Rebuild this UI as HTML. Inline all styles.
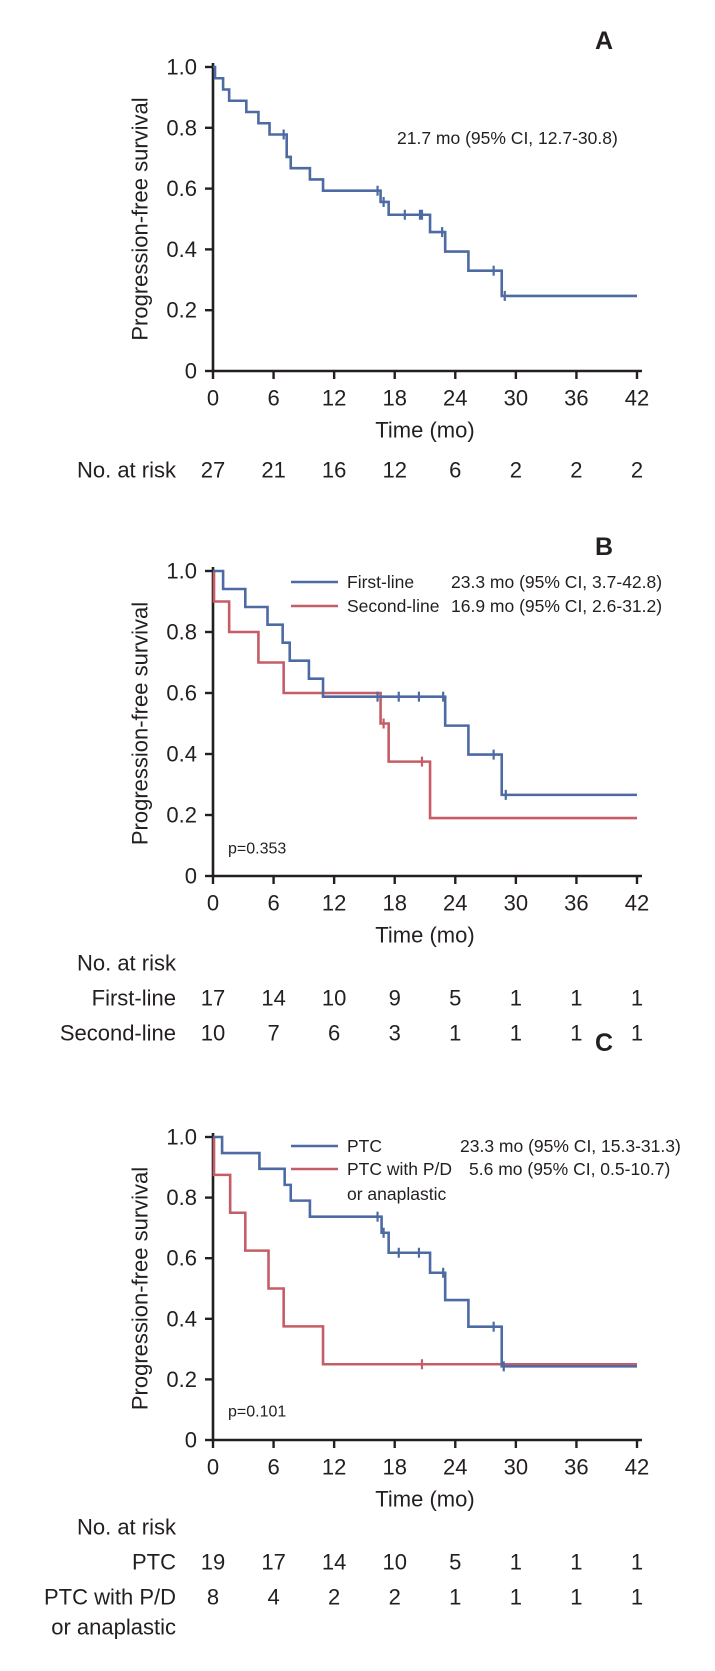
<!DOCTYPE html>
<html><head><meta charset="utf-8">
<style>
html,body{margin:0;padding:0;background:#fff;}
svg{display:block;font-family:"Liberation Sans Narrow","Liberation Sans",sans-serif;}
</style></head>
<body>
<svg id="chart" width="715" height="1671" viewBox="0 0 715 1671" xmlns="http://www.w3.org/2000/svg"></svg>
<script>
// ---- data ----
const xTicks = [0,6,12,18,24,30,36,42];
const yTicks = [0,0.2,0.4,0.6,0.8,1.0];
const yTickLabels = ["0","0.2","0.4","0.6","0.8","1.0"];

// Panel A
const aTimes = [0,0.2,1.0,1.6,3.3,4.5,5.6,7.3,7.7,9.6,10.9,16.6,17.4,21.5,23.0,25.3,28.6];
const aSurv  = [1,0.963,0.926,0.889,0.852,0.815,0.778,0.704,0.667,0.63,0.593,0.556,0.514,0.457,0.393,0.33,0.247];
const aCens  = [7.0,16.3,16.9,19.0,20.5,20.7,22.7,27.8,28.9];
const aRisk  = [27,21,16,12,6,2,2,2];

// Panel B
const bFirstTimes = [0,1.0,3.2,5.4,6.9,7.6,9.5,10.9,23.0,25.3,28.6];
const bFirstSurv  = [1,0.941,0.882,0.824,0.765,0.706,0.647,0.588,0.493,0.398,0.266];
const bFirstCens  = [16.3,18.4,20.4,22.8,27.8,29.0];
const bSecondTimes = [0,0.1,1.6,4.5,7.0,16.6,17.4,21.5];
const bSecondSurv  = [1,0.9,0.8,0.7,0.6,0.5,0.375,0.19];
const bSecondCens  = [16.9,20.7];
const bFirstRisk  = [17,14,10,9,5,1,1,1];
const bSecondRisk = [10,7,6,3,1,1,1,1];

// Panel C
const cPtcTimes = [0,0.9,4.6,7.1,7.7,9.6,16.7,17.4,21.5,23.0,25.3,28.6];
const cPtcSurv  = [1,0.947,0.895,0.842,0.79,0.737,0.684,0.618,0.552,0.462,0.374,0.243];
const cPtcCens  = [16.3,16.9,18.4,20.4,22.8,27.8,28.8];
const cPdTimes = [0,0.1,1.7,3.2,5.5,7.0,10.9];
const cPdSurv  = [1,0.875,0.75,0.625,0.5,0.375,0.25];
const cPdCens  = [20.7];
const cPtcRisk = [19,17,14,10,5,1,1,1];
const cPdRisk  = [8,4,2,2,1,1,1,1];

const BLUE="#4d6aa3", RED="#c55d66", INK="#231f20";
const svg=document.getElementById('chart');
const NS="http://www.w3.org/2000/svg";
function mk(tag,attrs,parent){const e=document.createElementNS(NS,tag);for(const k in attrs)e.setAttribute(k,attrs[k]);(parent||svg).appendChild(e);return e;}
function txt(s,x,y,size,anchor,parent,weight){const t=mk('text',{x:x,y:y,'font-size':size,'text-anchor':anchor||'start','dominant-baseline':'central',fill:INK},parent);if(weight)t.setAttribute('font-weight',weight);t.textContent=s;return t;}

const X0=213,X42=637;
function xs(m){return X0+(X42-X0)*m/42;}

function panel(letter,letterY,yTop,yBot,tickOff,titleOff,g){
  const ys=v=>yBot-(yBot-yTop)*v;
  const L=txt(letter,604,letterY,25,'middle',g,'bold');
  
  
  const ax=mk('path',{d:`M${X0} ${yTop-4} V${yBot} H642`,stroke:INK,'stroke-width':2.6,fill:'none'},g);
  
  
  yTicks.forEach((v,i)=>{
    const tk=mk('line',{x1:X0-8,x2:X0,y1:ys(v),y2:ys(v),stroke:INK,'stroke-width':2.4},g);
    
    
    const t=txt(yTickLabels[i],197,ys(v),22,'end',g);
    
    
  });
  xTicks.forEach(m=>{
    const tk=mk('line',{x1:xs(m),x2:xs(m),y1:yBot,y2:yBot+8,stroke:INK,'stroke-width':2.4},g);
    
    
    const t=txt(String(m),xs(m),yBot+tickOff,22,'middle',g);
    
    
  });
  const xt=txt('Time (mo)',xs(21),yBot+titleOff,22,'middle',g);
  
  
  const cy=(yTop+yBot)/2;
  const yt=txt('Progression-free survival',140,cy,22,'middle',g);
  yt.setAttribute('transform',`rotate(-90 140 ${cy})`);
  
  
  return ys;
}

function curve(times,surv,cens,color,ys,g,name){
  let d=`M${xs(times[0])} ${ys(surv[0])}`;
  for(let i=1;i<times.length;i++){d+=` H${xs(times[i])} V${ys(surv[i])}`;}
  d+=` H${xs(42)}`;
  const p=mk('path',{d:d,stroke:color,'stroke-width':2.6,fill:'none'},g);
  
  
  cens.forEach(c=>{
    let v=surv[0];for(let i=0;i<times.length;i++){if(times[i]<=c)v=surv[i];}
    const l=mk('line',{x1:xs(c),x2:xs(c),y1:ys(v)-5,y2:ys(v)+5,stroke:color,'stroke-width':2.2},g);
    
    
  });
}
function riskRow(vals,y,g,name){
  vals.forEach((v,i)=>{
    const t=txt(String(v),xs(xTicks[i]),y,22,'middle',g);
    
    
  });
}
function legendLine(x1,x2,y,color,g,name){
  const l=mk('line',{x1:x1,x2:x2,y1:y,y2:y,stroke:color,'stroke-width':2.6},g);
  
  
}

// Panel A
const gA=mk('g',{});


const ysA=panel('A',41,67,371,27,59,gA);
curve(aTimes,aSurv,aCens,BLUE,ysA,gA,'overall');
let t=txt('21.7 mo (95% CI, 12.7-30.8)',397,138,17.5,'start',gA);


t=txt('No. at risk',176,470,22,'end',gA);


riskRow(aRisk,470,gA,'overall');

// Panel B
const gB=mk('g',{});


const ysB=panel('B',547,571,876,27,59,gB);
curve(bSecondTimes,bSecondSurv,bSecondCens,RED,ysB,gB,'second-line');
curve(bFirstTimes,bFirstSurv,bFirstCens,BLUE,ysB,gB,'first-line');
legendLine(291,338,582,BLUE,gB,'legend-first-line-swatch');
legendLine(291,338,606,RED,gB,'legend-second-line-swatch');
t=txt('First-line',347,582,17.5,'start',gB);
t=txt('23.3 mo (95% CI, 3.7-42.8)',451,582,17.5,'start',gB);
t=txt('Second-line',347,606,17.5,'start',gB);
t=txt('16.9 mo (95% CI, 2.6-31.2)',451,606,17.5,'start',gB);
t=txt('p=0.353',228,849,16,'start',gB);
t=txt('No. at risk',176,963,22,'end',gB);
t=txt('First-line',176,998,22,'end',gB);
t=txt('Second-line',176,1033,22,'end',gB);
riskRow(bFirstRisk,998,gB,'first-line');
riskRow(bSecondRisk,1033,gB,'second-line');

// Panel C
const gC=mk('g',{});


const ysC=panel('C',1043,1137,1440,27,59,gC);
curve(cPdTimes,cPdSurv,cPdCens,RED,ysC,gC,'ptc-pd-anaplastic');
curve(cPtcTimes,cPtcSurv,cPtcCens,BLUE,ysC,gC,'ptc');
legendLine(291,338,1146,BLUE,gC,'legend-ptc-swatch');
legendLine(291,338,1169,RED,gC,'legend-pd-swatch');
t=txt('PTC',347,1146,17.5,'start',gC);
t=txt('23.3 mo (95% CI, 15.3-31.3)',460,1146,17.5,'start',gC);
t=txt('PTC with P/D',347,1169,17.5,'start',gC);
t=txt('or anaplastic',347,1194,17.5,'start',gC);
t=txt('5.6 mo (95% CI, 0.5-10.7)',469,1169,17.5,'start',gC);
t=txt('p=0.101',228,1412,16,'start',gC);
t=txt('No. at risk',176,1527,22,'end',gC);
t=txt('PTC',176,1562,22,'end',gC);
t=txt('PTC with P/D',176,1597,22,'end',gC);
t=txt('or anaplastic',176,1627,22,'end',gC);
riskRow(cPtcRisk,1562,gC,'ptc');
riskRow(cPdRisk,1597,gC,'pd');
</script>
</body></html>
